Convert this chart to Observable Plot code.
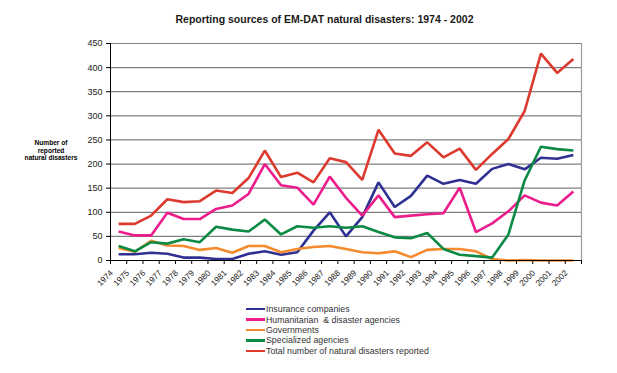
<!DOCTYPE html>
<html>
<head>
<meta charset="utf-8">
<script src="https://cdn.jsdelivr.net/npm/d3@7"></script>
<script src="https://cdn.jsdelivr.net/npm/@observablehq/plot@0.6"></script>
<style>
  html, body { margin: 0; padding: 0; background: #fff; }
  #wrap { position: relative; width: 617px; height: 373px; font-family: "Liberation Sans", Arial, sans-serif; }
  #title { position: absolute; left: 0; width: 649px; top: 13px; text-align: center; font-weight: bold; font-size: 10.5px; line-height: 12px; color: #1a1a1a; }
  #ylab { position: absolute; left: 11px; width: 80px; top: 139px; text-align: center; font-weight: bold; font-size: 6.6px; line-height: 7.6px; color: #000; }
  #legend { position: absolute; left: 246px; top: 304px; font-size: 8.8px; color: #333; }
  .item { display: flex; align-items: center; height: 10.4px; }
  .sw { width: 19px; height: 2.5px; margin-right: 1px; }
  #chart { position: absolute; left: 0; top: 0; }
</style>
</head>
<body>
<div id="wrap">
  <div id="chart"></div>
  <div id="title">Reporting sources of EM-DAT natural disasters: 1974 - 2002</div>
  <div id="ylab">Number of<br>reported<br>natural disasters</div>
  <div id="legend"></div>
</div>
<script>
const years = d3.range(1974, 2003);
const yTicks = [0, 50, 100, 150, 200, 250, 300, 350, 400, 450];

const seriesNames = [
  "Insurance companies",
  "Humanitarian  & disaster agencies",
  "Governments",
  "Specialized agencies",
  "Total number of natural disasters reported"
];
const seriesColors = ["#2E3192", "#EC1C8C", "#F58A2E", "#0B8A45", "#DC3A2E"];

const insurance    = [13,13,16,14,6,6,3,3,14,19,12,17,62,100,50,90,162,111,134,176,159,167,159,190,200,189,213,211,219];
const humanitarian = [60,52,52,99,86,86,107,114,138,200,156,151,116,174,130,93,135,90,93,96,98,151,59,77,102,135,120,114,143];
const governments  = [26,18,41,31,30,22,26,16,30,30,17,24,28,30,24,17,15,19,7,22,24,24,19,3,0,1,0,0,0];
const specialized  = [30,19,38,35,44,38,70,64,60,85,54,71,68,71,68,71,59,48,46,57,24,12,9,6,54,166,236,231,228];
const total        = [76,76,93,127,121,123,145,140,171,228,173,182,162,212,204,167,271,222,217,245,214,232,188,221,252,310,429,389,418];

const seriesValues = [insurance, humanitarian, governments, specialized, total];

const rows = seriesValues.flatMap((vals, s) =>
  vals.map((v, i) => ({year: years[i], value: v, series: seriesNames[s]})));

const boundaries = years.map(y => y - 0.5).concat([years[years.length - 1] + 0.5]);
const x0 = boundaries[0], x1 = boundaries[boundaries.length - 1];

const chart = Plot.plot({
  width: 617,
  height: 373,
  marginTop: 43,
  marginBottom: 113,
  marginLeft: 110,
  marginRight: 36,
  style: {fontFamily: "'Liberation Sans', Arial, sans-serif", background: "transparent", color: "#222"},
  x: {type: "linear", domain: [x0, x1]},
  y: {domain: [0, 450]},
  color: {domain: seriesNames, range: seriesColors},
  marks: [
    Plot.gridY(yTicks, {stroke: "#808080", strokeOpacity: 1, strokeWidth: 1.2}),
    Plot.ruleX([x1], {stroke: "#9a9a9a", strokeWidth: 1.2}),
    Plot.line(rows, {x: "year", y: "value", z: "series", stroke: "series", strokeWidth: 2.6, strokeLinejoin: "miter", strokeLinecap: "butt"}),
    Plot.ruleX([x0], {stroke: "#000", strokeWidth: 1}),
    Plot.ruleY([0], {stroke: "#000", strokeWidth: 1}),
    Plot.axisY({ticks: yTicks, tickSize: 4, tickPadding: 4, fontSize: 9, stroke: "#000", label: null}),
    Plot.axisX({ticks: boundaries, tickSize: 4, tickFormat: () => "", stroke: "#000", label: null}),
    Plot.axisX({ticks: years, tickSize: 0, tickPadding: 11, tickRotate: -45, fontSize: 8.3, dx: -7, tickFormat: d => String(d), label: null})
  ]
});
document.getElementById("chart").appendChild(chart);

const legend = document.getElementById("legend");
seriesNames.forEach((name, i) => {
  const item = document.createElement("div");
  item.className = "item";
  const sw = document.createElement("span");
  sw.className = "sw";
  sw.style.background = seriesColors[i];
  const t = document.createElement("span");
  t.textContent = name;
  t.style.whiteSpace = "pre";
  item.appendChild(sw);
  item.appendChild(t);
  legend.appendChild(item);
});
</script>
</body>
</html>
